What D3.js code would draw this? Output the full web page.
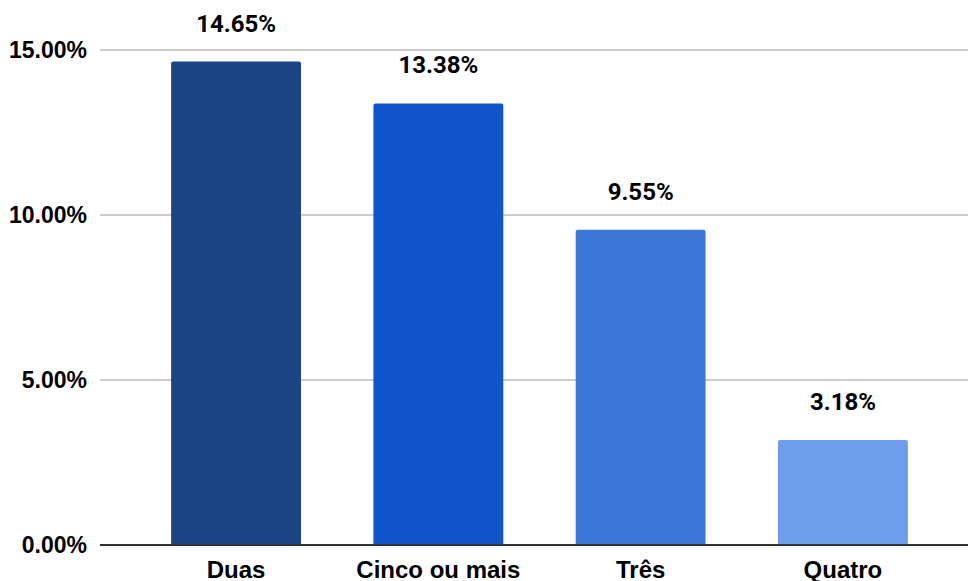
<!DOCTYPE html>
<meta charset="utf-8">
<style>
body { margin: 0; background: #fff; }
text { font-family: "Liberation Sans", Arial, sans-serif; font-weight: bold; fill: #000; }
.val { font-family: Roboto, Arial, sans-serif; }
.grid line { stroke: #cccccc; stroke-width: 2px; }
</style>
<body>
<script src="https://d3js.org/d3.v7.min.js"></script>
<script>

// data
var categories = ["Duas", "Cinco ou mais", "Três", "Quatro"];
var values = [14.65, 13.38, 9.55, 3.18];
var colors = ["#1c4587", "#1155cc", "#3c78d8", "#6d9eeb"];
var yTicks = [0, 5, 10, 15];

var width = 968, height = 581;

var svg = d3.select("body").append("svg")
    .attr("width", width)
    .attr("height", height);

// scales
var x = d3.scaleBand()
    .domain(categories)
    .range([106, 973])
    .paddingInner(0.358)
    .paddingOuter(0.322);

var y = d3.scaleLinear()
    .domain([0, 15])
    .range([545, 50]);

// gridlines
svg.append("g")
    .attr("class", "grid")
  .selectAll("line")
    .data(yTicks.slice(1))
  .enter().append("line")
    .attr("x1", 100)
    .attr("x2", width)
    .attr("y1", d => y(d))
    .attr("y2", d => y(d));

// y tick labels
svg.selectAll(".ytick")
    .data(yTicks)
  .enter().append("text")
    .attr("class", "ytick")
    .attr("x", 87)
    .attr("y", d => y(d))
    .attr("dy", "0.36em")
    .attr("text-anchor", "end")
    .style("font-size", "23px")
    .text(d => d.toFixed(2) + "%");

// bars
svg.selectAll(".bar")
    .data(values)
  .enter().append("path")
    .attr("class", "bar")
    .attr("fill", (d, i) => colors[i])
    .attr("d", function(d, i) {
      var x0 = x(categories[i]), w = x.bandwidth(), y0 = y(d), y1 = y(0), r = 2;
      return "M" + x0 + "," + y1 +
        "V" + (y0 + r) +
        "Q" + x0 + "," + y0 + " " + (x0 + r) + "," + y0 +
        "H" + (x0 + w - r) +
        "Q" + (x0 + w) + "," + y0 + " " + (x0 + w) + "," + (y0 + r) +
        "V" + y1 + "Z";
    });

// value labels
svg.selectAll(".val")
    .data(values)
  .enter().append("text")
    .attr("class", "val")
    .attr("x", (d, i) => x(categories[i]) + x.bandwidth() / 2)
    .attr("y", d => y(d) - 30)
    .attr("text-anchor", "middle")
    .style("font-size", "24px")
    .text(d => d.toFixed(2) + "%");

// baseline
svg.append("line")
    .attr("x1", 100)
    .attr("x2", width)
    .attr("y1", y(0))
    .attr("y2", y(0))
    .attr("stroke", "#333333")
    .attr("stroke-width", 2);

// category labels
svg.selectAll(".cat")
    .data(categories)
  .enter().append("text")
    .attr("class", "cat")
    .attr("x", d => x(d) + x.bandwidth() / 2)
    .attr("y", 578)
    .attr("text-anchor", "middle")
    .style("font-size", "24px")
    .text(d => d);

</script>
</body>
